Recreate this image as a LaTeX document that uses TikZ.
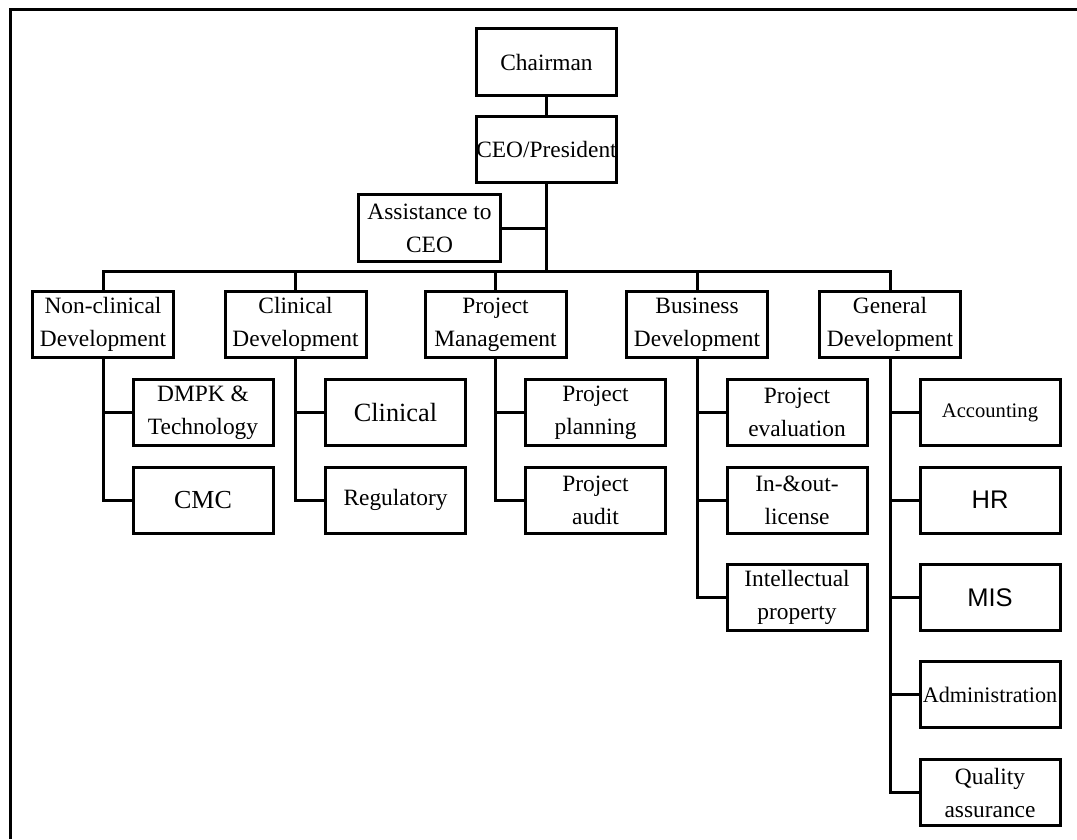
\documentclass[tikz,border=0pt]{standalone}
\usepackage{fontspec}
\setmainfont{Liberation Serif}
\newfontfamily\arialfont{Liberation Sans}
\usetikzlibrary{positioning}

\tikzset{
  unit/.style={draw, line width=3pt, outer sep=0pt, minimum width=141pt, minimum height=66pt,
    inner sep=0pt, align=center, font=\fontsize{23.4}{33}\selectfont},
  subunit/.style={unit, minimum width=140pt},
  link/.style={line width=3pt}
}

\begin{document}
\begin{tikzpicture}[x=1pt, y=-1pt]
  \useasboundingbox (0,0) rectangle (1077,839);
  % frame
  \draw[link] (10,839) -- (10,9) -- (1077,9);

  % Top: board and CEO
  \node[unit, minimum width=140pt, minimum height=67pt] (chair) at (546.5,62) {Chairman};
  \node[unit, minimum width=140pt, below=21pt of chair] (ceo) {CEO/President};
  \node[unit, minimum width=142pt, minimum height=67pt] (assist) at (429.5,228) {Assistance to\\CEO};
  \coordinate (bar) at (0,271);

  % Departments
  \node[unit] (ncd) at (103,324.5) {Non-clinical\\Development};
  \node[unit, right=51.5pt of ncd] (cd) {Clinical\\Development};
  \node[unit, right=59pt of cd] (pm) {Project\\Management};
  \node[unit, right=60.5pt of pm] (bd) {Business\\Development};
  \node[unit, right=52pt of bd] (gd) {General\\Development};

  \draw[link] (chair) -- (ceo);
  \draw[link] (ceo.south) -- (ceo.south |- bar);
  \draw[link] (assist.east) -- (assist.east -| ceo.south);
  \draw[link] (ncd.north) -- (ncd.north |- bar) -- (gd.north |- bar) -- (gd.north);
  \draw[link] (cd.north) -- (cd.north |- bar);
  \draw[link] (pm.north) -- (pm.north |- bar);
  \draw[link] (bd.north) -- (bd.north |- bar);

  % Non-clinical
  \node[subunit, below=22pt of ncd, xshift=100pt] (dmpk) {DMPK \&\\Technology};
  \node[subunit, below=21.5pt of dmpk, font=\fontsize{26}{30}\selectfont] (cmc) {CMC};
  \draw[link] (ncd.south) |- (dmpk.west);
  \draw[link] (ncd.south) |- (cmc.west);

  % Clinical
  \node[subunit, below=22pt of cd, xshift=100pt, font=\fontsize{26.3}{30}\selectfont] (clin) {Clinical};
  \node[subunit, below=21.5pt of clin] (reg) {Regulatory};
  \draw[link] (cd.south) |- (clin.west);
  \draw[link] (cd.south) |- (reg.west);

  % Project management
  \node[subunit, below=22pt of pm, xshift=100pt] (plan) {Project\\planning};
  \node[subunit, below=21.5pt of plan] (audit) {Project\\audit};
  \draw[link] (pm.south) |- (plan.west);
  \draw[link] (pm.south) |- (audit.west);

  % Business development
  \node[subunit, below=22pt of bd, xshift=100pt] (eval) {Project\\evaluation};
  \node[subunit, below=21.5pt of eval] (lic) {In-\&out-\\license};
  \node[subunit, below=31.5pt of lic] (ip) {Intellectual\\property};
  \draw[link] (bd.south) |- (eval.west);
  \draw[link] (bd.south) |- (lic.west);
  \draw[link] (bd.south) |- (ip.west);

  % General development
  \node[subunit, below=22pt of gd, xshift=100pt, font=\fontsize{20.6}{30}\selectfont] (acc) {Accounting};
  \node[subunit, below=21.5pt of acc, font=\arialfont\fontsize{25.5}{30}\selectfont] (hr) {HR};
  \node[subunit, below=31.5pt of hr, font=\arialfont\fontsize{25.5}{30}\selectfont] (mis) {MIS};
  \node[subunit, below=31pt of mis, font=\fontsize{22.2}{30}\selectfont] (admin) {Administration};
  \node[subunit, below=32pt of admin] (qa) {Quality\\assurance};
  \draw[link] (gd.south) |- (acc.west);
  \draw[link] (gd.south) |- (hr.west);
  \draw[link] (gd.south) |- (mis.west);
  \draw[link] (gd.south) |- (admin.west);
  \draw[link] (gd.south) |- (qa.west);
\end{tikzpicture}
\end{document}
